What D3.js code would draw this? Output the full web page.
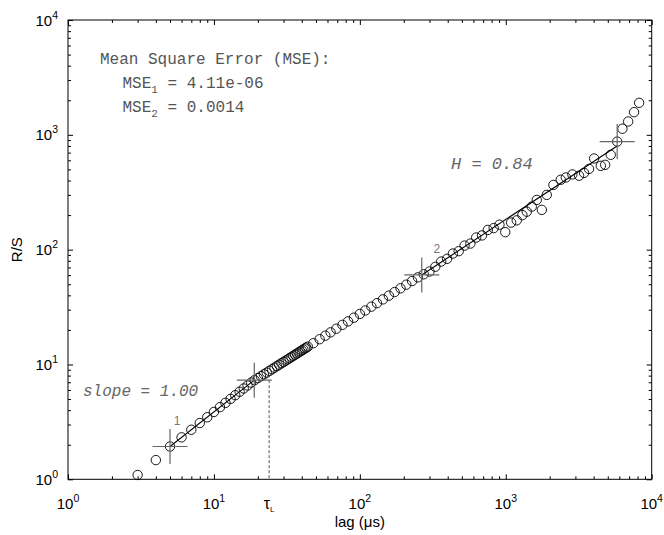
<!DOCTYPE html>
<html>
<head>
<meta charset="utf-8">
<script src="https://cdn.jsdelivr.net/npm/d3@7"></script>
<style>
    body { margin: 0; background: #fff; }
    svg { display: block; }
</style>
</head>
<body>
<script>
// R/S rescaled range plot, log-log
const lags = [3, 4, 5, 6, 7, 8, 9, 10, 11, 12, 13, 14, 15, 16, 17, 18, 19, 20,
    21, 22, 23, 24, 25, 26, 27, 28, 29, 30, 31, 32, 33, 34, 35, 36, 37, 38, 39, 40,
    41, 42, 43, 44, 48, 53, 58, 63, 69, 76, 83, 91, 100, 109, 120, 131, 144, 158,
    173, 190, 208, 228, 250, 274, 300, 329, 361, 396, 434, 476, 522, 572, 627, 687,
    753, 826, 905, 992, 1088, 1189, 1300, 1393, 1507, 1631, 1766, 1910, 2120, 2380,
    2580, 2860, 3180, 3440, 3720, 4030, 4480, 4800, 5240, 5800, 6300, 6900, 7570, 8200];
const rs = [1.09, 1.47, 1.93, 2.32, 2.70, 3.09, 3.47, 3.86, 4.25, 4.63, 5.02, 5.40, 5.79, 6.18, 6.56, 6.95, 7.30, 7.61,
    7.91, 8.21, 8.50, 8.80, 9.09, 9.38, 9.67, 9.95, 10.24, 10.52, 10.80, 11.07, 11.35, 11.63, 11.90, 12.17, 12.44, 12.71, 12.98, 13.24,
    13.51, 13.77, 14.03, 14.29, 15.32, 16.59, 17.82, 19.04, 20.48, 22.13, 23.74, 25.56, 27.56, 29.53, 31.89, 34.21, 36.90, 39.74,
    42.73, 46.06, 49.53, 53.30, 57.37, 61.0, 64.5, 70.9, 78.8, 83.2, 92.5, 97.0, 108.5, 113.0, 127.5, 133.0,
    148.5, 154.0, 165.0, 142.0, 172.0, 180.0, 200.0, 214.0, 237.0, 271.0, 222.0, 300.0, 366.0, 406.0,
    425.0, 452.0, 440.0, 466.0, 505.0, 622.0, 537.0, 548.0, 670.0, 873.0, 1130.0, 1306.0, 1575.0, 1900.0];

// fit segments and their end markers
const fit1Lag = [5, 18.9];
const fit1RS = [1.93, 7.3];
const fit2Lag = [265.6, 5800];
const fit2RS = [60.2, 800];
const crossLag = [5, 18.9, 265.6, 5800];
const crossRS = [1.93, 7.3, 60.2, 873];
const tauL = 23.9;

const majorTicks = [1, 10, 100, 1000, 10000];
const tickExp = ['0', '1', '2', '3', '4'];

const width = 664, height = 535;
const sans = '"Liberation Sans", Arial, sans-serif';
const mono = '"Liberation Mono", "Courier New", monospace';

const svg = d3.select('body').append('svg')
    .attr('width', width)
    .attr('height', height);

const x = d3.scaleLog().domain([1, 1e4]).range([68, 651.7]);
const y = d3.scaleLog().domain([1, 1e4]).range([479.3, 20]);

// minor ticks 2..9 in each decade
const minorTicks = [];
majorTicks.slice(0, -1).forEach(d => {
    for (let k = 2; k <= 9; k++) minorTicks.push(d * k);
});

function addAxis(axisFn, scale, transform, values, size) {
    const g = svg.append('g')
        .attr('transform', transform)
        .call(axisFn(scale).tickValues(values).tickSizeInner(-size).tickSizeOuter(0).tickFormat(''));
    g.select('.domain').remove();
    g.selectAll('line').attr('stroke', '#000');
}

[[majorTicks, 5], [minorTicks, 3]].forEach(([vals, size]) => {
    addAxis(d3.axisBottom, x, `translate(0,${y(1)})`, vals, size);
    addAxis(d3.axisTop, x, `translate(0,${y(1e4)})`, vals, size);
    addAxis(d3.axisLeft, y, `translate(${x(1)},0)`, vals, size);
    addAxis(d3.axisRight, y, `translate(${x(1e4)},0)`, vals, size);
});

// frame
svg.append('rect')
    .attr('x', x(1))
    .attr('y', y(1e4))
    .attr('width', x(1e4) - x(1))
    .attr('height', y(1) - y(1e4))
    .attr('fill', 'none')
    .attr('stroke', '#000')
    .attr('stroke-width', 1);

// tick labels
majorTicks.forEach((v, i) => {
    const t = svg.append('text')
        .attr('x', x(v))
        .attr('y', 509)
        .attr('text-anchor', 'middle')
        .style('font-family', sans)
        .style('font-size', '15px')
        .text('10');
    t.append('tspan').attr('dy', -7).style('font-size', '10.5px').text(tickExp[i]);

    const ty = svg.append('text')
        .attr('x', 58)
        .attr('y', y(v) + 5.5)
        .attr('text-anchor', 'end')
        .style('font-family', sans)
        .style('font-size', '15px')
        .text('10');
    ty.append('tspan').attr('dy', -7).style('font-size', '10.5px').text(tickExp[i]);
});

// axis titles
svg.append('text')
    .attr('x', x(100))
    .attr('y', 527)
    .attr('text-anchor', 'middle')
    .style('font-family', sans)
    .style('font-size', '15px')
    .text('lag (μs)');

svg.append('text')
    .attr('transform', `translate(22,${(y(1) + y(1e4)) / 2}) rotate(-90)`)
    .attr('text-anchor', 'middle')
    .style('font-family', sans)
    .style('font-size', '15px')
    .text('R/S');

// tau_L dashed marker
svg.append('line')
    .attr('x1', x(tauL)).attr('x2', x(tauL))
    .attr('y1', y(crossRS[1])).attr('y2', y(1))
    .attr('stroke', '#555')
    .attr('stroke-width', 1)
    .attr('stroke-dasharray', '3,2');

const tau = svg.append('text')
    .attr('x', x(tauL))
    .attr('y', 509)
    .attr('text-anchor', 'middle')
    .style('font-family', sans)
    .style('font-size', '16px')
    .text('τ');
tau.append('tspan').attr('dy', 3).style('font-size', '8px').text('L');

// data circles
svg.append('g').selectAll('circle')
    .data(lags.map((d, i) => [d, rs[i]]))
    .enter().append('circle')
    .attr('cx', d => x(d[0]))
    .attr('cy', d => y(d[1]))
    .attr('r', 4.7)
    .attr('fill', 'none')
    .attr('stroke', '#000')
    .attr('stroke-width', 0.9);

// fit lines
const line = d3.line().x(d => x(d[0])).y(d => y(d[1]));
[[fit1Lag, fit1RS], [fit2Lag, fit2RS]].forEach(([lx, ly]) => {
    svg.append('path')
        .attr('d', line(lx.map((d, i) => [d, ly[i]])))
        .attr('fill', 'none')
        .attr('stroke', '#000')
        .attr('stroke-width', 1.1);
});

// crosses at fit ends
const arm = 17.5;
crossLag.forEach((d, i) => {
    const cx = x(d), cy = y(crossRS[i]);
    svg.append('line')
        .attr('x1', cx - arm).attr('x2', cx + arm)
        .attr('y1', cy).attr('y2', cy)
        .attr('stroke', '#666').attr('stroke-width', 1.2);
    svg.append('line')
        .attr('x1', cx).attr('x2', cx)
        .attr('y1', cy - arm).attr('y2', cy + arm)
        .attr('stroke', '#666').attr('stroke-width', 1.2);
});

// segment numbers
[['1', 0, 7, -26], ['2', 2, 15, -26]].forEach(([s, idx, dx, dy]) => {
    svg.append('text')
        .attr('x', x(crossLag[idx]) + dx)
        .attr('y', y(crossRS[idx]) + dy + 4)
        .attr('text-anchor', 'middle')
        .style('font-family', sans)
        .style('font-size', '12px')
        .style('fill', '#777')
        .text(s);
});

// MSE box text
svg.append('text')
    .attr('x', 100).attr('y', 64)
    .style('font-family', mono).style('font-size', '16px').style('fill', '#555')
    .text('Mean Square Error (MSE):');

[['1', ' = 4.11e-06', 87.5], ['2', ' = 0.0014', 111.5]].forEach(([sub, rest, yy]) => {
    const t = svg.append('text')
        .attr('x', 122.5).attr('y', yy)
        .style('font-family', mono).style('font-size', '16px').style('fill', '#555')
        .text('MSE');
    t.append('tspan').attr('dy', 5).style('font-size', '11px').text(sub);
    t.append('tspan').attr('dy', -5).text(rest);
});

svg.append('text')
    .attr('x', 83).attr('y', 396)
    .style('font-family', mono).style('font-size', '16px').style('font-style', 'italic').style('fill', '#666')
    .text('slope = 1.00');

svg.append('text')
    .attr('x', 451).attr('y', 169)
    .style('font-family', mono).style('font-size', '17px').style('font-style', 'italic').style('fill', '#666')
    .text('H = 0.84');
</script>
</body>
</html>
